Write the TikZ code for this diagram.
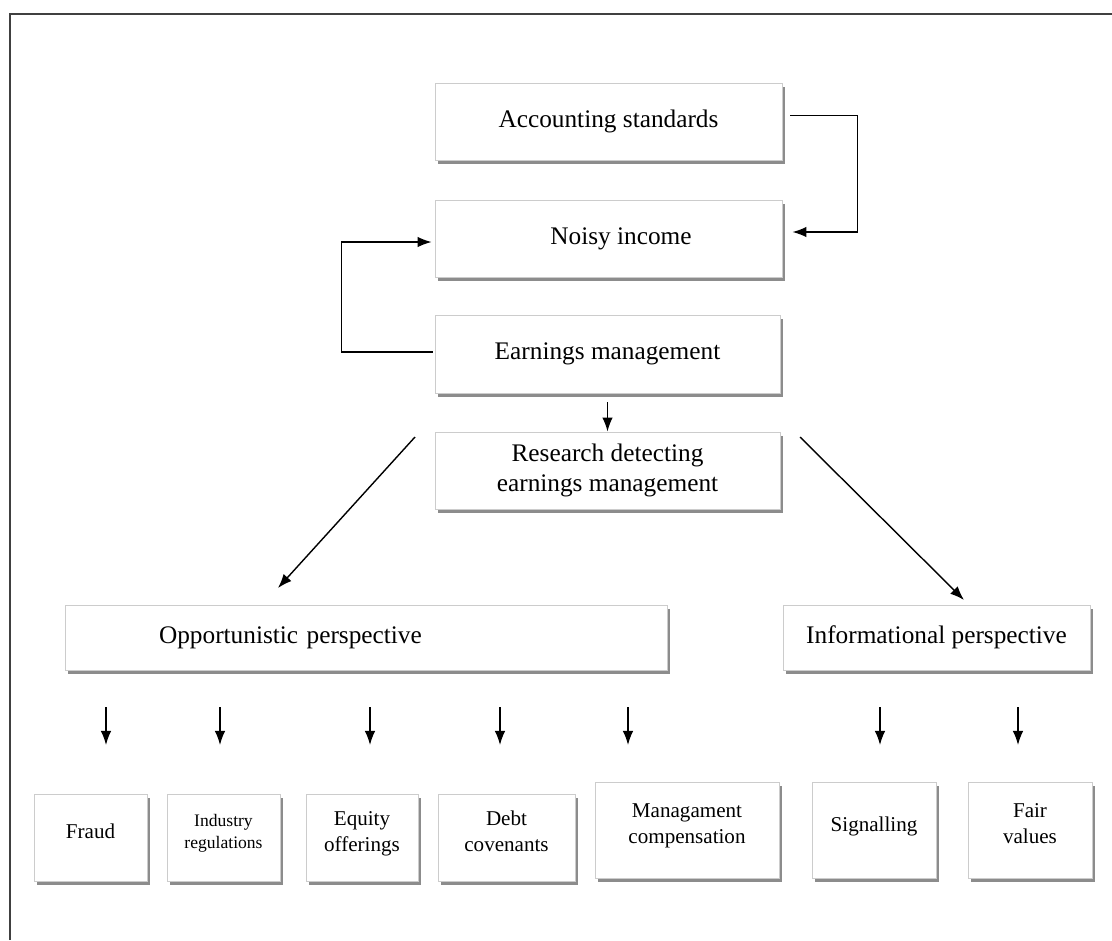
\documentclass[tikz,border=0pt]{standalone}
\usepackage{fontspec}
\setmainfont{Liberation Serif}
\usetikzlibrary{arrows.meta,shadows}

\begin{document}
\begin{tikzpicture}[x=0.02cm,y=-0.02cm,
    box/.style={draw=gray!40,fill=white,line width=0.5pt,inner sep=2pt,
      drop shadow={shadow xshift=1.6pt,shadow yshift=-2pt,fill=black,opacity=0.45},
      font=\fontsize{14.4}{17.3}\selectfont},
    small/.style={box,align=center,text depth=0.25cm,font=\fontsize{12}{15}\selectfont},
    arr/.style={-{Latex[length=8pt,width=6pt]},line width=0.8pt}]
  \useasboundingbox (0,0) rectangle (1112,940);
  \draw[line width=1.2pt,black!75] (10,940) -- (10,14) -- (1112,14);

  % upper chain
  \node[box,minimum width=6.94cm,minimum height=1.54cm] (acc) at (608.5,121.5) {Accounting standards};
  \node[box,minimum width=6.94cm,minimum height=1.54cm] (noisy) at (608.5,238.5) {\hspace*{0.5cm}Noisy income};
  \node[box,minimum width=6.9cm,minimum height=1.56cm] (earn) at (607.5,354) {Earnings management};
  \node[box,align=center,minimum width=6.9cm,minimum height=1.54cm] (res) at (607.5,470.5) {Research detecting\\earnings management};

  \draw[arr] ([shift={(8,-6)}]acc.east) -- ++(67,0) |- ([shift={(10,-6.5)}]noisy.east);
  \draw[arr] ([shift={(-2,-2)}]earn.west) -- ++(-91,0) |- ([shift={(-3,3.5)}]noisy.west);
  \draw[arr] ([shift={(0,9)}]earn.south) -- (res.north);

  % perspectives
  \node[box,align=left,text width=8.28cm,inner xsep=1.88cm,minimum height=1.3cm] (opp) at (366,637.5) {Opportunistic perspective};
  \node[box,minimum width=6.14cm,minimum height=1.3cm] (info) at (936.5,637.5) {Informational perspective};

  \coordinate (dl) at (415,437);
  \coordinate (oppin) at (278,588);
  \coordinate (dr) at (800,437);
  \coordinate (infoin) at (964,600);
  \draw[arr] (dl) -- (oppin);
  \draw[arr] (dr) -- (infoin);

  % motives
  \node[small,minimum width=2.26cm,minimum height=1.74cm] (fraud) at (90.5,837.5) {Fraud};
  \node[small,font=\fontsize{10}{12.5}\selectfont,minimum width=2.26cm,minimum height=1.74cm] (indus) at (223.5,837.5) {Industry\\regulations};
  \node[small,minimum width=2.24cm,minimum height=1.74cm] (equity) at (362,837.5) {Equity\\offerings};
  \node[small,minimum width=2.74cm,minimum height=1.74cm] (debt) at (506.5,837.5) {Debt\\covenants};
  \node[small,minimum width=3.68cm,minimum height=1.92cm] (manag) at (687,830) {Managament\\compensation};
  \node[small,minimum width=2.48cm,minimum height=1.92cm] (signal) at (874,830) {Signalling};
  \node[small,minimum width=2.48cm,minimum height=1.92cm] (fair) at (1030,830) {Fair\\values};

  \foreach \x [count=\i] in {106,220,370,500,628,880,1018} {
    \coordinate (t\i) at (\x,707);
    \coordinate (h\i) at (\x,745);
    \draw[arr] (t\i) -- (h\i);
  }
\end{tikzpicture}
\end{document}
